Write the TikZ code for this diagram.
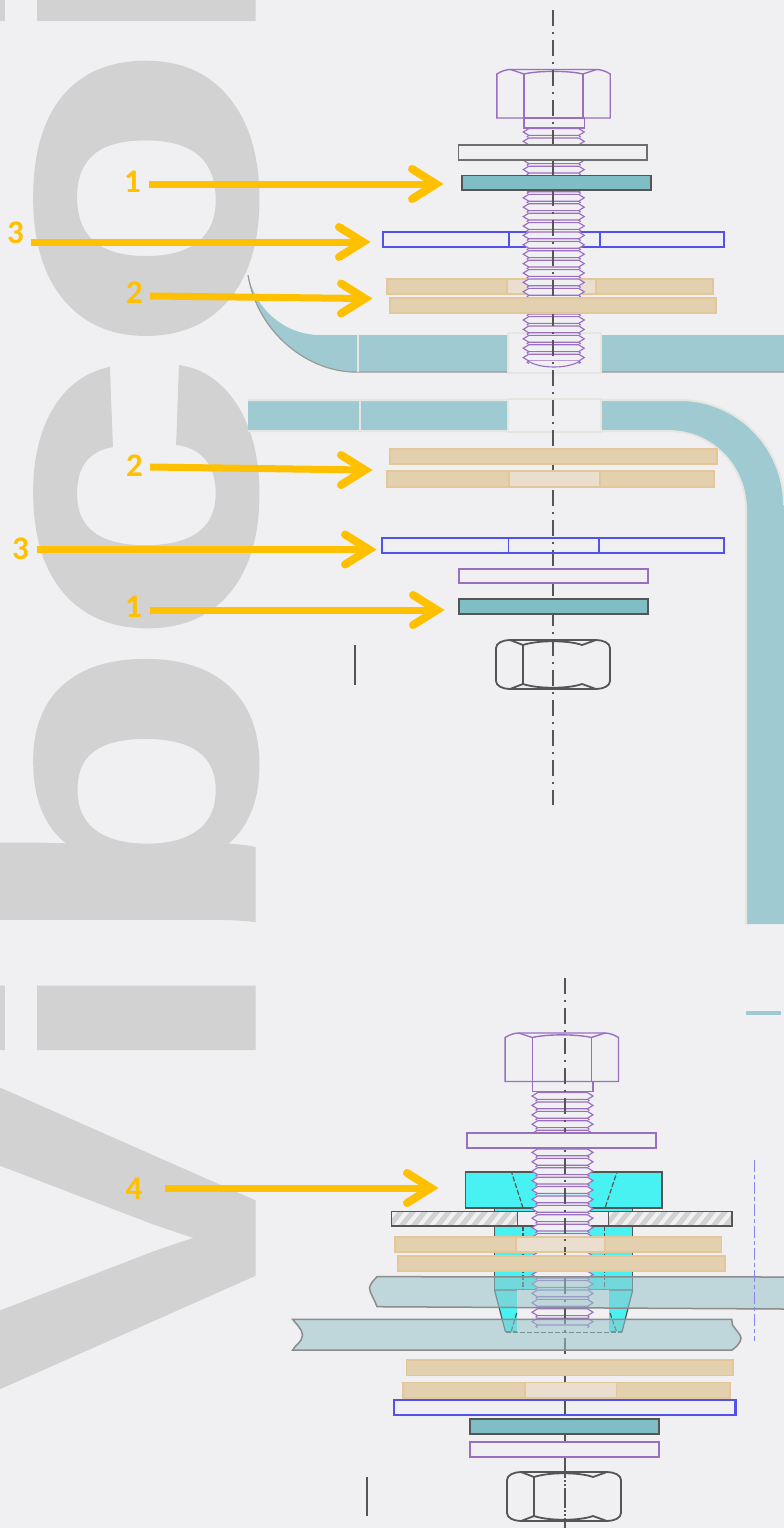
\documentclass[tikz,border=0pt]{standalone}
\usepackage{fontspec}
\setmainfont{Carlito}
\newfontfamily\wmfont[BoldFeatures={FakeBold=1.5}]{Liberation Sans}
\definecolor{bgc}{HTML}{F0F0F3}
\definecolor{wm}{HTML}{D2D2D2}
\definecolor{plate}{HTML}{A0CAD1}
\definecolor{plateedge}{HTML}{E6E6E1}
\definecolor{tan}{HTML}{E3D0AE}
\definecolor{tanedge}{HTML}{E3C699}
\definecolor{tanhole}{HTML}{EADFCF}
\definecolor{teal}{HTML}{7FBEC5}
\definecolor{dark}{HTML}{555555}
\definecolor{purp}{HTML}{9A6FC0}
\definecolor{blu}{HTML}{5252EA}
\definecolor{gold}{HTML}{FFC000}
\definecolor{cyn}{HTML}{48F2F2}
\definecolor{thinplate}{RGB}{151,196,201}
\tikzset{
 tanpart/.style={fill=tan,draw=tanedge,line width=1.6pt},
 tanholepart/.style={fill=tanhole,draw=tanedge,line width=1.4pt},
 bluepart/.style={draw=blu,line width=1.4pt},
 bluebold/.style={draw=blu,line width=2.2pt},
 purpart/.style={draw=purp,line width=1.3pt,fill=bgc},
 graypart/.style={draw=dark!85,line width=1.8pt,fill=bgc},
 tealpart/.style={fill=teal,draw=dark,line width=1.7pt},
 axis/.style={draw=dark,line width=2pt,dash pattern=on 16pt off 6pt on 2pt off 6pt},
 goldline/.style={draw=gold,line width=7pt},
 goldhead/.style={draw=gold,line width=8pt,line cap=round,miter limit=10},
 digit/.style={text=gold,inner sep=0pt,font=\fontsize{33}{33}\selectfont\bfseries},
 plateline/.style={draw=plateedge,line width=2pt},
 thinplatepart/.style={fill=thinplate,fill opacity=.55,draw=black!45,line width=1.5pt},
 cynpart/.style={fill=cyn,draw=dark,line width=1.5pt},
 dashline/.style={draw=dark,line width=1.2pt,dash pattern=on 5pt off 2pt},
 hatchpart/.style={draw=dark,line width=1.8pt},
}
\newcommand{\threads}[3]{% cx, first tip y, last index
 \foreach \k in {0,...,#3}{
  \pgfmathsetmacro{\tp}{#2+9.4*\k}
  \fill[bgc] ({#1-25},{\tp-4.7}) -- ({#1-30.5},\tp) -- ({#1-25},{\tp+4.7}) -- ({#1+25},{\tp+4.7}) -- ({#1+30.5},\tp) -- ({#1+25},{\tp-4.7}) -- cycle;
  \draw[purp,line width=1.15pt,line join=miter] ({#1-25},{\tp-3.4}) -- ({#1-30.5},\tp) -- ({#1-25},{\tp+3.4}) -- ({#1+25},{\tp+3.4}) -- ({#1+30.5},\tp) -- ({#1+25},{\tp-3.4}) -- cycle;
  \draw[purp,line width=1.15pt] ({#1-25},{\tp+3.4}) -- ({#1-26.5},{\tp+4.7}) -- ({#1-25},{\tp+6});
  \draw[purp,line width=1.15pt] ({#1+25},{\tp+3.4}) -- ({#1+26.5},{\tp+4.7}) -- ({#1+25},{\tp+6});
 }
}
\newcommand{\bolthead}[2]{%
 \begin{scope}[shift={(#1,#2)},purp,line width=1.4pt]
 \draw (-56.7,48.5) -- (-56.7,4.5) .. controls (-52,1.5) and (-47,0) .. (-43,0) -- (43,0) .. controls (47,0) and (52,1.5) .. (56.7,4.5) -- (56.7,48.5) -- cycle;
 \draw (-29.5,4.5) -- (-29.5,48.5) (29.5,4.5) -- (29.5,48.5);
 \draw (-43,0) -- (-29.5,4.5) .. controls (-15,1) and (15,1) .. (29.5,4.5) -- (43,0);
 \draw (-29.5,48.5) rectangle (31,58.5);
 \end{scope}
}
\newcommand{\hexnut}[2]{%
 \begin{scope}[shift={(#1,#2)},dark,line width=1.8pt]
 \draw (-43,0) -- (43,0) .. controls (50,0) and (57,3) .. (57,8) -- (57,41) .. controls (57,46) and (50,49) .. (43,49) -- (-43,49) .. controls (-50,49) and (-57,46) .. (-57,41) -- (-57,8) .. controls (-57,3) and (-50,0) .. (-43,0) -- cycle;
 \draw (-30,5) -- (-30,44);
 \draw (-43,0) -- (-30,5) .. controls (-15,0) and (15,0) .. (29,5) -- (43,0);
 \draw (-43,49) -- (-30,44) .. controls (-15,49) and (15,49) .. (29,44) -- (43,49);
 \end{scope}
}
\newcommand{\arrowhead}[1]{\draw[goldhead] ([shift={(-24,-15)}]#1) -- (#1) -- ([shift={(-24,15)}]#1);}
\newcommand{\wmletter}[3]{\rlap{\kern#1pt\scalebox{#2}[1]{#3}}}
\begin{document}
\begin{tikzpicture}[x=1pt,y=-1pt]
\useasboundingbox (0,0) rectangle (784,1528);
\fill[bgc] (0,0) rectangle (784,1528);
% watermark
\node[rotate=90,anchor=base west,inner sep=0,text=wm,font=\wmfont\fontsize{402}{402}\selectfont\bfseries] (wmk) at (252.5,1400) {\wmletter{0}{1.2}{V}\wmletter{323}{1.05}{i}\wmletter{448}{1.26}{b}\wmletter{754.5}{1.3}{c}\wmletter{1047.5}{1.25}{o}\wmletter{1352}{1.05}{i}};
% upper plate
\fill[plate] (248,275) .. controls (256,310) and (285,335) .. (320,335) -- (784,335) -- (784,372) -- (355,372) .. controls (310,372) and (258,335) .. (248,275) -- cycle;
\draw[black!40,line width=1.2pt] (248,275) .. controls (258,335) and (310,372) .. (355,372) -- (784,372);
\draw[plateline] (358,334) -- (358,372);
\fill[bgc] (508,333) rectangle (601,373);
\draw[plateline] (601,333) -- (508,333) -- (508,373) -- (601,373) -- cycle;
% bent plate
\fill[plate] (248,400) -- (680,400) .. controls (738,400) and (784,448) .. (784,505) -- (784,924) -- (746,924) -- (746,510) .. controls (746,466) and (712,431) .. (668,431) -- (248,431) -- cycle;
\draw[plateline] (248,400) -- (680,400) .. controls (738,400) and (784,448) .. (784,505);
\draw[plateline] (248,431) -- (668,431) .. controls (712,431) and (746,466) .. (746,510) -- (746,924);
\draw[plateline] (360,400) -- (360,431);
\fill[bgc] (508,400) rectangle (601,432);
\draw[plateline] (601,399) -- (508,399) -- (508,432) -- (601,432) -- cycle;
\fill[plate] (746,1011) rectangle (781,1015);
% top assembly
\draw[bluepart] (383,232) rectangle (724,247);
\draw[bluepart] (509,232) rectangle (600,247);
\draw[tanpart] (387,279) rectangle (713,294);
\draw[tanholepart] (507,279) rectangle (596,294);
\threads{553.75}{132}{24}
\fill[bgc] (528,361) .. controls (540,369) and (568,369) .. (580,361) -- cycle;
\draw[purp,line width=1.1pt] (528,361) .. controls (540,369) and (568,369) .. (580,361);
\bolthead{553.5}{69.5}
\draw[axis] (553,10) -- (553,805);
\draw[graypart] (458.5,145) rectangle (647,160);
\draw[tealpart] (462,175.5) rectangle (651,190);
\draw[tanpart] (390,298) rectangle (716,313);
% lower stack of the top assembly
\draw[tanpart] (390,449) rectangle (717,464);
\draw[tanpart] (387,471) rectangle (714,487);
\draw[tanholepart] (509,471) rectangle (600,487);
\draw[bluebold] (382,538) rectangle (724,553);
\draw[bluepart] (508.5,538) rectangle (599,553);
\draw[purpart] (459,569) rectangle (648,583);
\draw[tealpart] (459,599) rectangle (648,614);
\hexnut{553}{640}
\draw[dark,line width=2pt] (355,645) -- (355,685);
% bottom assembly: insert
\fill[cyn] (494.5,1208) rectangle (632.7,1290);
\draw[dark,line width=1.2pt] (494.5,1208) -- (494.5,1290) (632.7,1208) -- (632.7,1290);
\fill[cyn] (494.5,1290) -- (632.7,1290) -- (622,1332) -- (505.5,1332) -- cycle;
\draw[dark,line width=1.2pt] (494.5,1290) -- (505.5,1332) (632.7,1290) -- (622,1332) (494.5,1290) -- (632.7,1290);
\draw[dashline] (505.5,1332) -- (622,1332);
\fill[bgc] (517,1290) rectangle (609,1332);
\draw[dashline] (523,1226) -- (523,1290) (604.5,1226) -- (604.5,1290);
\draw[dashline] (516.7,1313) -- (511,1332) (610,1313) -- (616.7,1332);
\draw[cynpart] (465.5,1172) rectangle (662,1208);
\draw[dashline] (523,1208) -- (511.5,1172) -- (617,1172) -- (605,1208);
% hatched sheet
\begin{scope}
 \clip (391.5,1211.5) rectangle (517.5,1226) (608.5,1211.5) rectangle (732,1226);
 \fill[wm] (391.5,1211.5) rectangle (732,1226);
 \foreach \h in {380,392,...,740}{\draw[white!70!wm,line width=4pt] (\h,1230) -- ({\h+18},1208);}
\end{scope}
\draw[hatchpart] (391.5,1211.5) rectangle (517.5,1226);
\draw[hatchpart] (608.5,1211.5) rectangle (732,1226);
\fill[bgc] (518.4,1212.4) rectangle (607.6,1225.1);
\draw[dark,line width=1.2pt] (517.5,1211.5) -- (608.5,1211.5) (517.5,1226) -- (608.5,1226);
\threads{562.5}{1096}{24}
\bolthead{561.8}{1033}
\draw[axis] (564.5,978) -- (564.5,1528);
\draw[purpart] (467,1133) rectangle (656,1148);
\draw[tanpart] (395,1237) rectangle (721.5,1252);
\draw[tanholepart] (516,1237) rectangle (605,1252);
\draw[axis,dash phase=20pt] (564.5,1237) -- (564.5,1252);
\draw[tanpart] (398,1256) rectangle (725,1271);
\draw[thinplatepart] (784,1277) -- (377,1276.7) .. controls (373,1281) and (370,1284) .. (369.5,1288) .. controls (369.5,1293) and (375,1300) .. (377,1306.7) -- (784,1309);
\draw[thinplatepart] (292.7,1319.3) -- (731.7,1319.3) -- (732.5,1325) .. controls (736,1330) and (741,1335) .. (741,1338) .. controls (741,1343) and (735,1348) .. (732,1350) -- (292.7,1350) .. controls (295,1345) and (302.5,1342) .. (302.5,1335) .. controls (302.5,1329) and (295,1323) .. (292.7,1319.3) -- cycle;
\draw[blu!70,line width=1.2pt,dash pattern=on 12pt off 3pt on 4pt off 3pt] (754.5,1160) -- (754.5,1341);
\draw[tanpart] (406.5,1360) rectangle (733,1375.5);
\draw[tanpart] (403,1382.5) rectangle (730,1398);
\draw[tanholepart] (525,1382.5) rectangle (616.5,1398);
\draw[bluebold] (394,1400) rectangle (735.5,1415);
\draw[tealpart] (470,1419) rectangle (659,1434);
\draw[purpart] (470,1442) rectangle (659,1457);
\hexnut{564}{1472}
\draw[axis,dash phase=8pt] (564.5,1470) -- (564.5,1528);
\draw[dark,line width=2pt] (366.5,1477) -- (366.5,1516);
% callouts
\node[digit] (n1a) at (132.5,182) {1};
\node[digit] (n3a) at (15.5,233) {3};
\node[digit] (n2a) at (134.5,293) {2};
\node[digit] (n2b) at (134.5,466) {2};
\node[digit] (n3b) at (20.5,549) {3};
\node[digit] (n1b) at (133.5,607) {1};
\node[digit] (n4a) at (134,1189) {4};
\coordinate (s1a) at (149,184); \coordinate (e1a) at (436,184);
\coordinate (s3a) at (31,242); \coordinate (e3a) at (363,242);
\coordinate (s2a) at (150,296); \coordinate (e2a) at (365,298.5);
\coordinate (s2b) at (150,467); \coordinate (e2b) at (365,470);
\coordinate (s3b) at (37,549.5); \coordinate (e3b) at (369,549.5);
\coordinate (s1b) at (150,610); \coordinate (e1b) at (437,610);
\coordinate (s4a) at (165,1188); \coordinate (e4a) at (431,1188);
\foreach \a in {1a,3a,2a,2b,3b,1b,4a}{
 \draw[goldline] (s\a) -- (e\a);
 \arrowhead{e\a}
}
\end{tikzpicture}
\end{document}
